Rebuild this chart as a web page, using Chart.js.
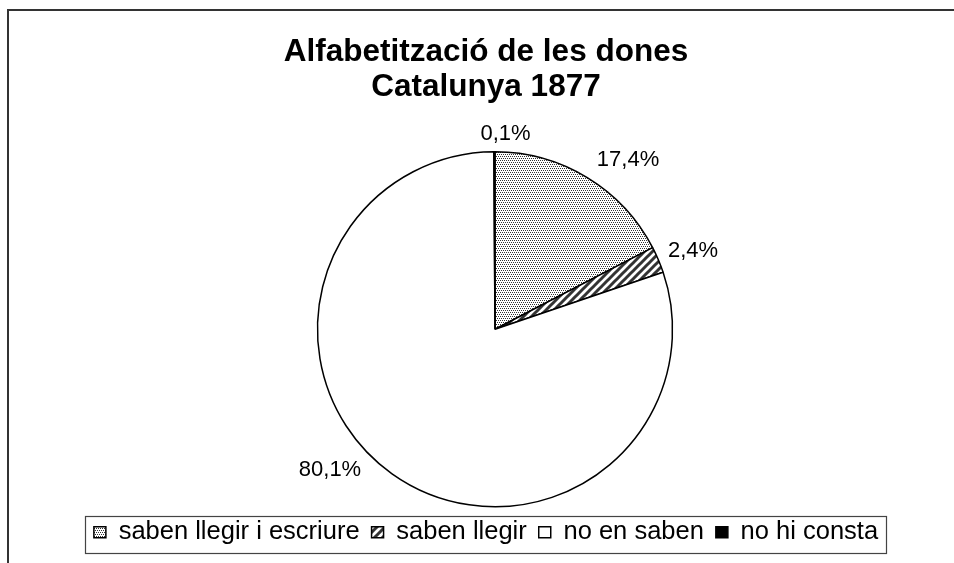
<!DOCTYPE html>
<html><head><meta charset="utf-8">
<script src="https://cdn.jsdelivr.net/npm/chart.js@4/dist/chart.umd.min.js"></script>
<style>html,body{margin:0;padding:0;background:#fff;overflow:hidden}canvas{display:block}</style>
</head><body>
<canvas id="c" width="954" height="563"></canvas>
<script>
// ---- data ----
const titleLines = ['Alfabetització de les dones', 'Catalunya 1877'];
const categories = ['saben llegir i escriure', 'saben llegir', 'no en saben', 'no hi consta'];
const values = [17.4, 2.4, 80.1, 0.1];
const valueLabels = ['17,4%', '2,4%', '80,1%', '0,1%'];

const FONT = '"Liberation Sans", Arial, Helvetica, sans-serif';

function makePattern(w, h, draw) {
  const c = document.createElement('canvas');
  c.width = w; c.height = h;
  const g = c.getContext('2d');
  g.fillStyle = '#fff'; g.fillRect(0, 0, w, h);
  draw(g, w, h);
  return document.getElementById('c').getContext('2d').createPattern(c, 'repeat');
}
const dotted = makePattern(4, 4, (g) => {
  g.fillStyle = '#333';
  [[0,0],[2,0],[1,2],[3,2]].forEach(([x,y]) => g.fillRect(x, y, 1, 1));
});
const hatched = makePattern(8, 8, (g) => {
  g.strokeStyle = '#333'; g.lineWidth = 3; g.lineCap = 'square';
  for (const k of [-8, 0, 8]) { g.beginPath(); g.moveTo(k, 8); g.lineTo(k + 8, 0); g.stroke(); }
});
const fills = [dotted, hatched, '#ffffff', '#000000'];

const sliceLabels = {
  id: 'sliceLabels',
  afterDatasetsDraw(chart, args, opts) {
    const meta = chart.getDatasetMeta(0);
    const ctx = chart.ctx;
    ctx.save();
    ctx.font = opts.font; ctx.fillStyle = '#000';
    ctx.textAlign = 'center'; ctx.textBaseline = 'middle';
    meta.data.forEach((arc, i) => {
      const p = arc.getProps(['x','y','startAngle','endAngle','outerRadius'], true);
      const mid = (p.startAngle + p.endAngle) / 2 + opts.angleShift[i] * Math.PI / 180;
      const d = p.outerRadius + opts.gap[i];
      ctx.fillText(valueLabels[i], p.x + Math.cos(mid) * d, p.y + Math.sin(mid) * d);
    });
    ctx.restore();
  }
};

const frames = {
  id: 'frames',
  afterLayout(chart, args, opts) {
    chart.chartArea.left += opts.plotShiftX;
    chart.chartArea.right += opts.plotShiftX;
  },
  afterDraw(chart) {
    const ctx = chart.ctx;
    ctx.save();
    // outer chart frame (cropped on right and bottom)
    ctx.strokeStyle = '#333'; ctx.lineWidth = 2;
    ctx.beginPath(); ctx.moveTo(8, chart.height); ctx.lineTo(8, 10); ctx.lineTo(chart.width, 10); ctx.stroke();
    // legend frame
    const lg = chart.legend, hb = lg.legendHitBoxes;
    if (hb && hb.length) {
      const l = hb[0].left - 9, r = hb[hb.length-1].left + hb[hb.length-1].width + 8;
      const t = lg.top + 8.5, b = lg.bottom - 2;
      ctx.lineWidth = 1.2; ctx.strokeStyle = '#444';
      ctx.strokeRect(Math.round(l) + 0.5, Math.round(t) + 0.5, Math.round(r - l), Math.round(b - t));
    }
    ctx.restore();
  }
};

new Chart(document.getElementById('c'), {
  type: 'pie',
  data: {
    labels: categories,
    datasets: [{
      data: values,
      backgroundColor: fills,
      borderColor: '#000',
      borderWidth: 1.5,
      hoverOffset: 0,
      offset: 0
    }]
  },
  plugins: [sliceLabels, frames],
  options: {
    responsive: false,
    animation: false,
    devicePixelRatio: 1,
    events: [],
    layout: { padding: { top: 0, left: 18, right: 0, bottom: 8 } },
    plugins: {
      tooltip: { enabled: false },
      title: {
        display: true,
        text: titleLines,
        color: '#000',
        font: { family: FONT, size: 31.5, weight: 'bold', lineHeight: 35 / 31.5 },
        padding: { top: 35, bottom: 46 }
      },
      legend: {
        display: true,
        position: 'bottom',
        labels: {
          color: '#000',
          font: { family: FONT, size: 25.5 },
          boxWidth: 12,
          boxHeight: 11,
          padding: 12
        }
      },
      sliceLabels: {
        font: '22px ' + FONT,
        angleShift: [6.84, 1.5, 14.07, 3.25],
        gap: [37.8, 35.4, 39.4, 18.5]
      },
      frames: { plotShiftX: 9 }
    }
  }
});
</script>
</body></html>
